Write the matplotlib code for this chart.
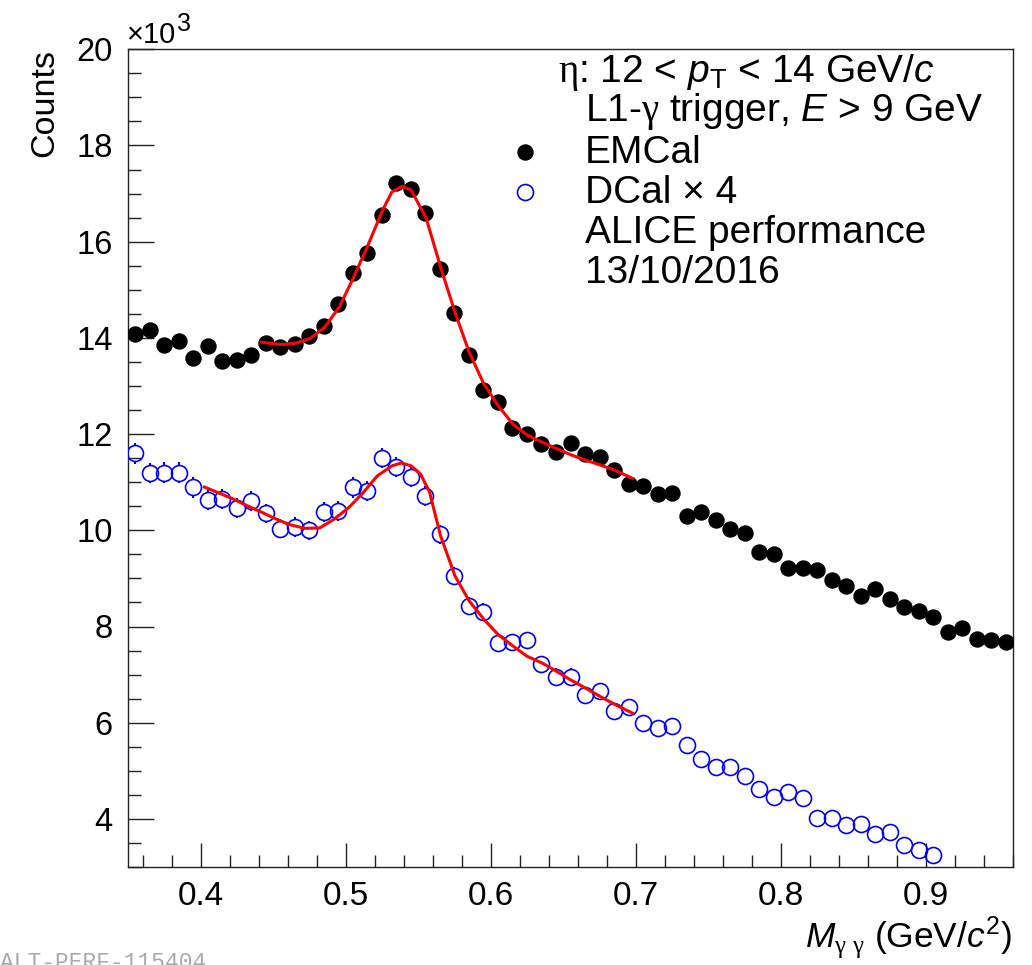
import numpy as np
import matplotlib
matplotlib.use("Agg")
import matplotlib.pyplot as plt
from matplotlib.ticker import MultipleLocator

plt.rcParams['font.family'] = ['Liberation Sans', 'DejaVu Sans']
plt.rcParams['mathtext.fontset'] = 'custom'
plt.rcParams['mathtext.rm'] = 'Liberation Serif'
plt.rcParams['mathtext.it'] = 'Liberation Sans:italic'
plt.rcParams['mathtext.sf'] = 'Liberation Sans'

# bin centres of the invariant mass histogram (GeV/c^2)
m_emcal = [0.355, 0.365, 0.375, 0.385, 0.395, 0.405, 0.415, 0.425, 0.435, 0.445,
           0.455, 0.465, 0.475, 0.485, 0.495, 0.505, 0.515, 0.525, 0.535, 0.545,
           0.555, 0.565, 0.575, 0.585, 0.595, 0.605, 0.615, 0.625, 0.635, 0.645,
           0.655, 0.665, 0.675, 0.685, 0.695, 0.705, 0.715, 0.725, 0.735, 0.745,
           0.755, 0.765, 0.775, 0.785, 0.795, 0.805, 0.815, 0.825, 0.835, 0.845,
           0.855, 0.865, 0.875, 0.885, 0.895, 0.905, 0.915, 0.925, 0.935, 0.945,
           0.955]
# counts in units of 10^3
emcal = [14.08, 14.17, 13.86, 13.93, 13.58, 13.83, 13.53, 13.54, 13.65, 13.89,
         13.82, 13.88, 14.03, 14.24, 14.71, 15.35, 15.77, 16.55, 17.23, 17.09,
         16.60, 15.44, 14.51, 13.65, 12.92, 12.67, 12.13, 12.00, 11.79, 11.62,
         11.81, 11.58, 11.52, 11.26, 10.96, 10.92, 10.75, 10.78, 10.30, 10.38,
         10.21, 10.02, 9.95, 9.55, 9.51, 9.22, 9.22, 9.17, 8.96, 8.84,
         8.63, 8.77, 8.58, 8.41, 8.33, 8.19, 7.89, 7.97, 7.75, 7.71,
         7.68]

m_dcal = m_emcal[:56]
# DCal counts x 4, units of 10^3
dcal = [11.60, 11.19, 11.20, 11.20, 10.89, 10.63, 10.65, 10.46, 10.61, 10.35,
        10.03, 10.07, 10.00, 10.38, 10.40, 10.89, 10.82, 11.50, 11.32, 11.11,
        10.71, 9.92, 9.05, 8.42, 8.30, 7.66, 7.67, 7.71, 7.22, 6.96,
        6.96, 6.58, 6.66, 6.25, 6.32, 5.99, 5.90, 5.94, 5.54, 5.25,
        5.07, 5.08, 4.90, 4.63, 4.45, 4.55, 4.43, 4.01, 4.01, 3.87,
        3.89, 3.69, 3.72, 3.46, 3.35, 3.25]

# fit curves
fit_emcal_x = [0.442, 0.4557, 0.4657, 0.4756, 0.4855, 0.4956, 0.5055, 0.5153,
               0.5254, 0.5318, 0.5387, 0.545, 0.5554, 0.5655, 0.5754, 0.5852,
               0.5953, 0.6052, 0.6155, 0.6251, 0.6355, 0.6453, 0.6552, 0.6653,
               0.6752, 0.6855, 0.6977]
fit_emcal_y = [13.91, 13.86, 13.89, 13.99, 14.22, 14.64, 15.26, 15.92,
               16.65, 17.03, 17.15, 17.08, 16.50, 15.47, 14.53, 13.70,
               13.04, 12.59, 12.20, 11.98, 11.83, 11.70, 11.57, 11.46,
               11.36, 11.25, 11.08]

fit_dcal_x = [0.4027, 0.4226, 0.4322, 0.4425, 0.4524, 0.4622, 0.4723, 0.4822,
              0.4920, 0.5021, 0.5120, 0.5218, 0.5319, 0.5383, 0.5452, 0.5516,
              0.5578, 0.5655, 0.5754, 0.5852, 0.5953, 0.6052, 0.6155, 0.6251,
              0.6355, 0.6453, 0.6545, 0.6653, 0.6752, 0.6855, 0.6977]
fit_dcal_y = [10.90, 10.65, 10.51, 10.37, 10.23, 10.11, 10.04, 10.05,
              10.23, 10.47, 10.78, 11.13, 11.34, 11.40, 11.34, 11.17,
              10.80, 9.88, 9.05, 8.53, 8.15, 7.83, 7.59, 7.38,
              7.24, 7.07, 6.90, 6.72, 6.55, 6.38, 6.20]

W, H = 1032, 965
fig = plt.figure(figsize=(W / 100, H / 100), dpi=100)
# axes frame in pixels: left 128, right 1013, top 49, bottom 867
ax = fig.add_axes([128 / W, 1 - 867 / H, (1013 - 128) / W, (867 - 49.3) / H])

ax.plot(m_emcal, emcal, 'o', ms=10.8, color='black', zorder=3)

# statistical error of the scaled DCal counts, drawn only outside the marker
dcal_err = 2 * np.sqrt(np.array(dcal) * 1000) / 1000
r = 8.0 / 48
for x, y, e in zip(m_dcal, dcal, dcal_err):
    if e > r:
        ax.vlines([x, x], [y + r, y - e], [y + e, y - r], color='#0000ff', lw=1.5, zorder=3)
ax.plot(m_dcal, dcal, 'o', ms=11.5, mfc='none', mec='#0000ff', mew=1.2, zorder=3)

ax.plot(fit_emcal_x, fit_emcal_y, '-', color='#ff0000', lw=2.2, zorder=4)
ax.plot(fit_dcal_x, fit_dcal_y, '-', color='#ff0000', lw=2.2, zorder=4)

ax.set_xlim(0.35, 0.96)
ax.set_ylim(3, 20)
ax.xaxis.set_minor_locator(MultipleLocator(0.02))
ax.yaxis.set_minor_locator(MultipleLocator(0.5))
ax.set_xticks([0.4, 0.5, 0.6, 0.7, 0.8, 0.9])
ax.set_xticklabels(['0.4', '0.5', '0.6', '0.7', '0.8', '0.9'])
ax.set_yticks([4, 6, 8, 10, 12, 14, 16, 18, 20])
ax.set_yticklabels(['4', '6', '8', '10', '12', '14', '16', '18', '20'])

ax.tick_params(which='both', direction='in', top=False, right=False, width=1.0, color='#222222')
ax.tick_params(axis='y', which='major', length=18.5, pad=11, labelsize=23.5)
ax.tick_params(axis='y', which='minor', length=9.3)
ax.tick_params(axis='x', which='major', length=17.3, pad=10, labelsize=24)
ax.tick_params(axis='x', which='minor', length=8.6)
for s in ax.spines.values():
    s.set_linewidth(1.0)
    s.set_color('#222222')

def px(x, y):
    return x / W, 1 - y / H

fig.text(*px(127, 43), '×10', fontsize=21, ha='left', va='baseline')
fig.text(*px(177, 31), '3', fontsize=18, ha='left', va='baseline')
fig.text(*px(53, 49), 'Counts', fontsize=24.5, rotation=90, ha='right', va='baseline',
         rotation_mode='anchor')
fig.text(*px(1012, 947), '$M_{\\mathrm{\\gamma\\ \\gamma}}$ (GeV/$c^{\\mathsf{2}}$)', fontsize=25.5,
         ha='right', va='baseline')

fs = 28
fig.text(*px(558, 82), '$\\mathrm{\\eta}$: 12 < $p_{\\mathsf{T}}$ < 14 GeV/$c$', fontsize=fs, va='baseline')
fig.text(*px(585, 121), 'L1-$\\mathrm{\\gamma}$ trigger, $E$ > 9 GeV', fontsize=fs, va='baseline')
fig.text(*px(585, 163), 'EMCal', fontsize=fs, va='baseline')
fig.text(*px(585, 203), 'DCal × 4', fontsize=fs, va='baseline')
fig.text(*px(585, 243), 'ALICE performance', fontsize=fs, va='baseline')
fig.text(*px(585, 283), '13/10/2016', fontsize=fs, va='baseline')
fig.lines.append(plt.Line2D([525 / W], [1 - 152 / H], marker='o', ms=10.8, color='black',
                            transform=fig.transFigure, figure=fig))
fig.lines.append(plt.Line2D([525 / W], [1 - 192 / H], marker='o', ms=11.5, mfc='none',
                            mec='#0000ff', mew=1.2, transform=fig.transFigure, figure=fig))

fig.text(*px(0, 969), 'ALT-PERF-115404', fontsize=16.5, family='Liberation Mono',
         color='#aaaaaa', ha='left', va='baseline')

fig.savefig('out.png', dpi=100)
